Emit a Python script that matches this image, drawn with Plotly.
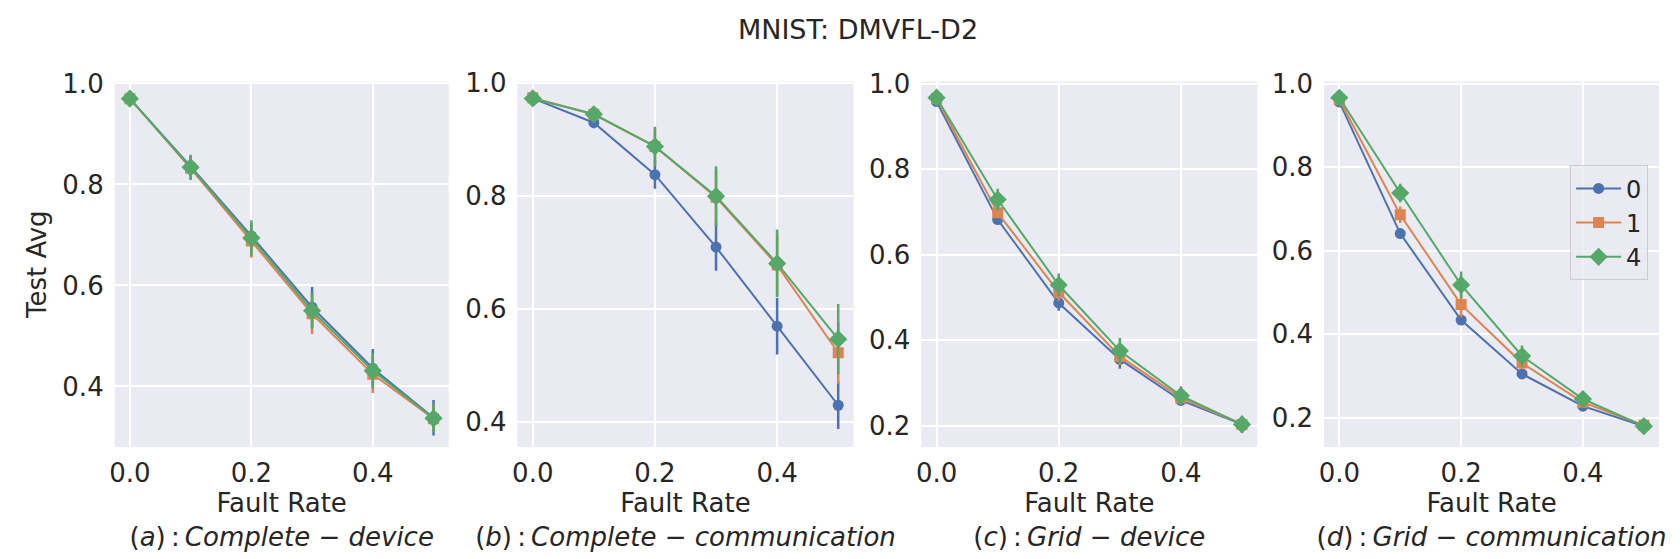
import plotly.graph_objects as go

# fault rates on the x axis
fault_rate = [0.0, 0.1, 0.2, 0.3, 0.4, 0.5]
series_names = ["0", "1", "4"]

# (a) Complete - device
a_0 = [0.970, 0.836, 0.698, 0.557, 0.436, 0.338]
a_0_err = [0.003, 0.020, 0.025, 0.040, 0.038, 0.035]
a_1 = [0.970, 0.832, 0.688, 0.544, 0.424, 0.336]
a_1_err = [0.003, 0.022, 0.033, 0.040, 0.037, 0.025]
a_4 = [0.970, 0.834, 0.694, 0.550, 0.431, 0.337]
a_4_err = [0.003, 0.025, 0.035, 0.035, 0.035, 0.028]

# (b) Complete - communication
b_0 = [0.972, 0.929, 0.837, 0.709, 0.569, 0.429]
b_0_err = [0.003, 0.010, 0.025, 0.042, 0.050, 0.042]
b_1 = [0.973, 0.944, 0.887, 0.797, 0.677, 0.522]
b_1_err = [0.003, 0.012, 0.030, 0.050, 0.055, 0.055]
b_4 = [0.972, 0.944, 0.887, 0.799, 0.680, 0.546]
b_4_err = [0.003, 0.012, 0.035, 0.053, 0.060, 0.062]

# (c) Grid - device
c_0 = [0.958, 0.682, 0.487, 0.355, 0.259, 0.203]
c_0_err = [0.004, 0.008, 0.018, 0.022, 0.010, 0.020]
c_1 = [0.965, 0.698, 0.512, 0.362, 0.265, 0.203]
c_1_err = [0.004, 0.012, 0.020, 0.020, 0.015, 0.010]
c_4 = [0.967, 0.729, 0.529, 0.375, 0.270, 0.203]
c_4_err = [0.004, 0.025, 0.027, 0.030, 0.022, 0.012]

# (d) Grid - communication
d_0 = [0.956, 0.641, 0.434, 0.305, 0.228, 0.180]
d_0_err = [0.004, 0.010, 0.008, 0.008, 0.008, 0.005]
d_1 = [0.962, 0.686, 0.471, 0.331, 0.237, 0.182]
d_1_err = [0.004, 0.020, 0.030, 0.015, 0.010, 0.006]
d_4 = [0.966, 0.738, 0.518, 0.348, 0.245, 0.180]
d_4_err = [0.004, 0.022, 0.032, 0.025, 0.010, 0.006]

subtitles = [
    "(<i>a</i>)\u2009:\u2009<i>Complete</i> − <i>device</i>",
    "(<i>b</i>)\u2009:\u2009<i>Complete</i> − <i>communication</i>",
    "(<i>c</i>)\u2009:\u2009<i>Grid</i> − <i>device</i>",
    "(<i>d</i>)\u2009:\u2009<i>Grid</i> − <i>communication</i>",
]

panels = [
    ([a_0, a_1, a_4], [a_0_err, a_1_err, a_4_err]),
    ([b_0, b_1, b_4], [b_0_err, b_1_err, b_4_err]),
    ([c_0, c_1, c_4], [c_0_err, c_1_err, c_4_err]),
    ([d_0, d_1, d_4], [d_0_err, d_1_err, d_4_err]),
]

colors = ["#4C72B0", "#DD8452", "#55A868"]
symbols = ["circle", "square", "diamond"]
marker_sizes = [11, 11, 14]

W, H = 1680, 559
x_px = [(102, 437), (506, 843), (911, 1248), (1315, 1651)]
y_ranges = [[0.28, 1.004], [0.355, 1.002], [0.15, 1.005], [0.13, 1.005]]
y_dom = [1 - 436 / H, 1 - 61 / H]
txt = "#262626"

fig = go.Figure()
layout = {}
for i, (values, errors) in enumerate(panels):
    n = "" if i == 0 else str(i + 1)
    for j in range(3):
        fig.add_trace(go.Scatter(
            x=fault_rate, y=values[j],
            error_y=dict(type="data", array=errors[j], width=0,
                         thickness=2.5, color=colors[j]),
            mode="lines+markers",
            line=dict(color=colors[j], width=2),
            marker=dict(color=colors[j], symbol=symbols[j], size=marker_sizes[j]),
            name=series_names[j], showlegend=(i == 3),
            xaxis="x" + n, yaxis="y" + n,
        ))
    layout["xaxis" + n] = dict(
        domain=[x_px[i][0] / W, x_px[i][1] / W], range=[-0.025, 0.525],
        tickvals=[0.0, 0.2, 0.4], ticktext=["0.0", "0.2", "0.4"],
        showgrid=True, gridcolor="white", gridwidth=1.5, zeroline=False,
        showline=False, ticklabelstandoff=8,
        tickfont=dict(size=26, color=txt), anchor="y" + n,
        title=dict(text="Fault Rate<br>" + subtitles[i], standoff=2,
                   font=dict(size=26, color=txt)),
    )
    layout["yaxis" + n] = dict(
        domain=y_dom, range=y_ranges[i], dtick=0.2, tickformat=".1f",
        showgrid=True, gridcolor="white", gridwidth=1.5, zeroline=False,
        showline=False, ticklabelstandoff=10,
        tickfont=dict(size=26, color=txt), anchor="x" + n,
    )
layout["yaxis"]["title"] = dict(text="Test Avg", standoff=8,
                                font=dict(size=26, color=txt))

fig.update_layout(**layout)
fig.update_layout(
    width=W, height=H,
    margin=dict(l=0, r=0, t=0, b=0),
    paper_bgcolor="white", plot_bgcolor="#EAEAF2",
    font=dict(family="DejaVu Sans", color=txt),
    title=dict(text="MNIST: DMVFL-D2", x=850 / W, xanchor="center",
               y=1 - 22 / H, yanchor="middle", font=dict(size=27, color=txt)),
    legend=dict(x=1640 / W, xanchor="right", y=1 - 147 / H, yanchor="top",
                bgcolor="rgba(234,234,242,0.8)", bordercolor="#CCCCCC",
                borderwidth=1, font=dict(size=24, color=txt), itemwidth=45),
)

fig.write_html("out.html")
